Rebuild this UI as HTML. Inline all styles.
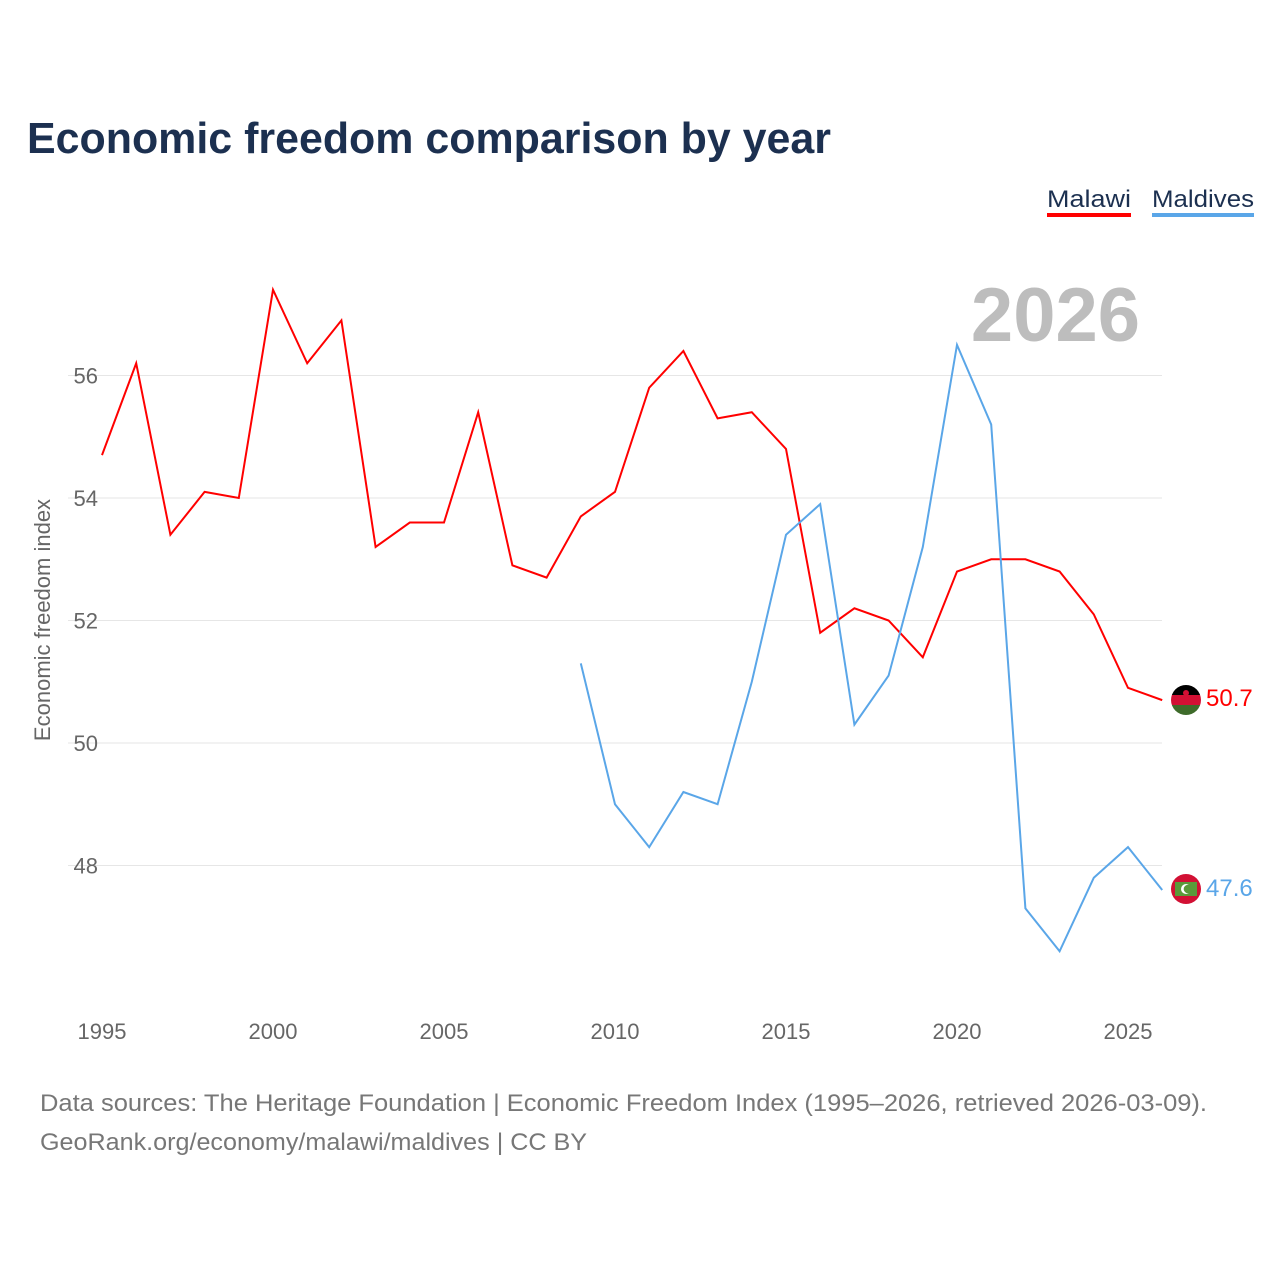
<!DOCTYPE html>
<html><head><meta charset="utf-8"><style>
body{margin:0;background:#fff;font-family:"Liberation Sans",sans-serif}
</style></head><body>
<svg width="1280" height="1280" xmlns="http://www.w3.org/2000/svg">
<text x="27" y="153" font-size="44" font-weight="bold" fill="#1c3050" textLength="804" lengthAdjust="spacingAndGlyphs">Economic freedom comparison by year</text>
<g>
<text x="1047" y="207" font-size="24" fill="#1c3050" textLength="84" lengthAdjust="spacingAndGlyphs">Malawi</text>
<rect x="1047" y="213" width="84" height="4" fill="#ff0000"/>
<text x="1152" y="207" font-size="24" fill="#1c3050" textLength="102" lengthAdjust="spacingAndGlyphs">Maldives</text>
<rect x="1152" y="213" width="102" height="4" fill="#5aa6e8"/>
</g>
<text x="1140" y="341" text-anchor="end" font-size="76" font-weight="bold" fill="#bdbdbd">2026</text>
<g id="grid"></g>
<g id="yticks"></g>
<g id="xticks"></g>
<text transform="translate(50,620) rotate(-90)" text-anchor="middle" font-size="22" fill="#666">Economic freedom index</text>
<g id="series"></g>
<g>
<clipPath id="c1"><circle cx="1186" cy="700" r="15"/></clipPath>
<g clip-path="url(#c1)"><rect x="1170" y="684" width="32" height="11" fill="#000"/><rect x="1170" y="695" width="32" height="10" fill="#d21034"/><rect x="1170" y="705" width="32" height="12" fill="#3e6b2a"/><circle cx="1186" cy="693" r="3" fill="#d21034"/></g></g>
<g>
<circle cx="1186" cy="889" r="15" fill="#d21034"/><rect x="1175" y="882" width="22" height="14" fill="#5a9a3a"/><circle cx="1186" cy="889" r="5" fill="#fff"/><circle cx="1188" cy="889" r="4.3" fill="#5a9a3a"/></g>
<text x="1206" y="706" font-size="24" fill="#ff0000">50.7</text>
<text x="1206" y="896" font-size="24" fill="#5aa6e8">47.6</text>
<text x="40" y="1111" font-size="24" fill="#777" textLength="1167" lengthAdjust="spacingAndGlyphs">Data sources: The Heritage Foundation | Economic Freedom Index (1995–2026, retrieved 2026-03-09).</text>
<text x="40" y="1150" font-size="24" fill="#777" textLength="547" lengthAdjust="spacingAndGlyphs">GeoRank.org/economy/malawi/maldives | CC BY</text>
</svg>
<script>
const years=[1995,1996,1997,1998,1999,2000,2001,2002,2003,2004,2005,2006,2007,2008,2009,2010,2011,2012,2013,2014,2015,2016,2017,2018,2019,2020,2021,2022,2023,2024,2025,2026];
const malawi=[54.7,56.2,53.4,54.1,54.0,57.4,56.2,56.9,53.2,53.6,53.6,55.4,52.9,52.7,53.7,54.1,55.8,56.4,55.3,55.4,54.8,51.8,52.2,52.0,51.4,52.8,53.0,53.0,52.8,52.1,50.9,50.7];
const maldivesYears=[2009,2010,2011,2012,2013,2014,2015,2016,2017,2018,2019,2020,2021,2022,2023,2024,2025,2026];
const maldives=[51.3,49.0,48.3,49.2,49.0,51.0,53.4,53.9,50.3,51.1,53.2,56.5,55.2,47.3,46.6,47.8,48.3,47.6];
const yTicks=[48,50,52,54,56];
const xTicks=[1995,2000,2005,2010,2015,2020,2025];
const ns="http://www.w3.org/2000/svg";
const X=y=>102+(y-1995)*34.2;
const Y=v=>743-(v-50)*61.25;
function mk(t,a,p){const e=document.createElementNS(ns,t);for(const k in a)e.setAttribute(k,a[k]);p.appendChild(e);return e;}
const grid=document.getElementById('grid'),yt=document.getElementById('yticks'),xt=document.getElementById('xticks'),ser=document.getElementById('series');
yTicks.forEach(v=>{
const l=mk('line',{x1:68,x2:1162,y1:Y(v),y2:Y(v),stroke:'#e6e6e6','stroke-width':1},grid);


const t=mk('text',{x:98,y:Y(v)+8,'text-anchor':'end','font-size':22,fill:'#666'},yt);t.textContent=v;


});
xTicks.forEach(v=>{
const t=mk('text',{x:X(v),y:1039,'text-anchor':'middle','font-size':22,fill:'#666'},xt);t.textContent=v;


});
const p1=mk('polyline',{points:years.map((y,i)=>X(y)+','+Y(malawi[i])).join(' '),fill:'none',stroke:'#ff0000','stroke-width':2},ser);


const p2=mk('polyline',{points:maldivesYears.map((y,i)=>X(y)+','+Y(maldives[i])).join(' '),fill:'none',stroke:'#5aa6e8','stroke-width':2},ser);


</script>
</body></html>
